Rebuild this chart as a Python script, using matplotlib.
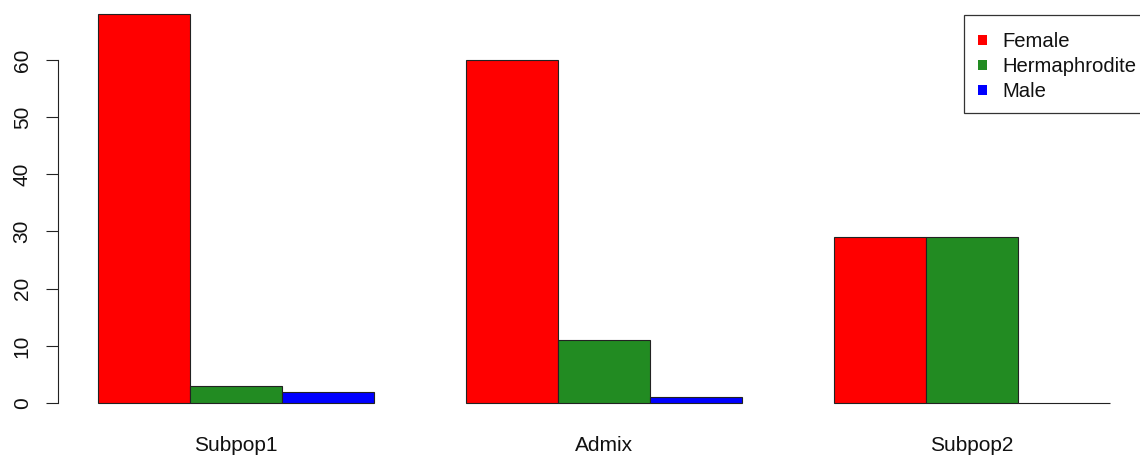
import matplotlib
matplotlib.use("Agg")
import matplotlib.pyplot as plt
import matplotlib.transforms as mtransforms
from matplotlib.patches import Rectangle

# Counts per group and sex
groups = ["Subpop1", "Admix", "Subpop2"]
sexes = ["Female", "Hermaphrodite", "Male"]
female = [68, 60, 29]
hermaphrodite = [3, 11, 29]
male = [2, 1, 0]
colors = ["red", "#228B22", "blue"]
yticks = [0, 10, 20, 30, 40, 50, 60]

W, H = 1140, 455
FS = 15.0
LEG_FS = 14.6
plt.rcParams["font.family"] = ["Liberation Sans", "DejaVu Sans"]
fig = plt.figure(figsize=(W / 100, H / 100), dpi=100)


def fx(px):
    return px / W


def fy(py):
    return 1 - py / H


ax = fig.add_axes([fx(57.5), fy(418.6), (1150 - 57.5) / W, 420.1 / H])

series = [female, hermaphrodite, male]
n_groups = len(groups)
n_series = len(series)
# grouped bars: unit width, one empty unit between groups
for gi in range(n_groups):
    start = 1 + gi * (n_series + 1)
    for si, vals in enumerate(series):
        ax.bar(start + si, vals[gi], width=1.0, align="edge",
               color=colors[si], edgecolor="#222222", linewidth=0.8)

ax.set_xlim(0.56, 12.44)
ax.set_ylim(-2.72, 70.72)

for s in ["top", "right", "bottom"]:
    ax.spines[s].set_visible(False)
ax.spines["left"].set_bounds(0, 60)
ax.spines["left"].set_linewidth(0.8)
ax.spines["left"].set_color("#222222")
ax.set_xticks([])
ax.set_yticks(yticks)
ax.set_yticklabels([str(v) for v in yticks], rotation=90, va="center",
                   fontsize=FS, color="#111111")
ax.tick_params(axis="y", length=8.6, width=0.8, pad=10, color="#222222")

label_trans = mtransforms.blended_transform_factory(ax.transData, fig.transFigure)
for gi, name in enumerate(groups):
    center = 1 + gi * (n_series + 1) + n_series / 2
    ax.text(center, fy(451), name, transform=label_trans,
            ha="center", va="baseline", fontsize=FS, color="#111111")

# legend box
fig.add_artist(Rectangle((fx(964), fy(113)), fx(1150) - fx(964), fy(15) - fy(113),
                         transform=fig.transFigure, facecolor="white",
                         edgecolor="#333333", linewidth=0.9))
rows = [40, 65, 90]
for name, col, ry in zip(sexes, colors, rows):
    fig.add_artist(Rectangle((fx(983 - 4.5), fy(ry + 4.5)), 9 / W, 9 / H,
                             transform=fig.transFigure, facecolor=col,
                             edgecolor="none"))
    fig.text(fx(1002), fy(ry + 7), name, ha="left", va="baseline",
             fontsize=LEG_FS, color="#111111")

fig.savefig("out.png", dpi=100)
